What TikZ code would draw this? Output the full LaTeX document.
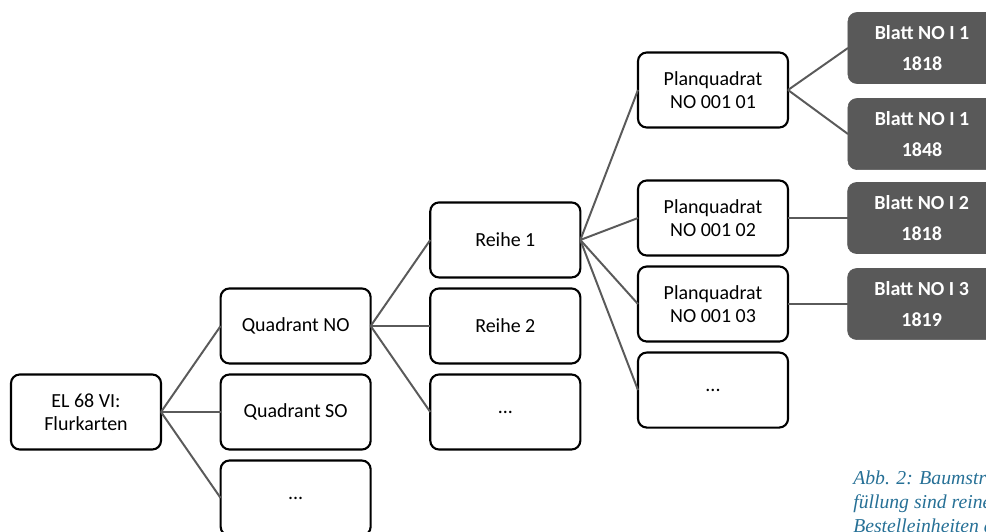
\documentclass[tikz,border=0pt]{standalone}
\usepackage{fontspec}
\setmainfont{Carlito}
\newfontfamily\captionfont{Liberation Serif}
\usetikzlibrary{positioning}
\definecolor{linegray}{RGB}{90,90,90}
\definecolor{leafgray}{RGB}{89,89,89}
\definecolor{captionblue}{RGB}{38,112,150}
\tikzset{
    box/.style={
        rectangle,
        draw=black,
        line width=1.5pt,
        rounded corners=2.2mm,
        fill=white,
        minimum width=3.75cm,
        minimum height=1.875cm,
        outer sep=0pt,
        align=center,
        font=\fontsize{14.2}{16}\selectfont
    },
    leaf/.style={
        rectangle,
        draw=leafgray,
        fill=leafgray,
        rounded corners=2.2mm,
        minimum width=3.7cm,
        minimum height=1.775cm,
        outer sep=0pt,
        align=center,
        text=white,
        font=\fontsize{14.2}{22}\selectfont\bfseries
    },
    link/.style={
        draw=linegray,
        line width=1.4pt
    }
}

\begin{document}
\begin{tikzpicture}[x=0.025cm, y=-0.025cm, node distance=2.75mm and 14.9mm]
    \useasboundingbox (0,0) rectangle (986,532);
    % Bestand
    \node[box]                        (root)      at (86,412) {EL 68 VI:\\Flurkarten};
    % Quadranten
    \node[box, right=of root]         (quadSO)    {Quadrant SO};
    \node[box, above=of quadSO]       (quadNO)    {Quadrant NO};
    \node[box, below=of quadSO]       (quadMore)  {...};
    % Reihen
    \node[box, right=of quadNO]       (reihe2)    {Reihe 2};
    \node[box, above=of reihe2]       (reihe1)    {Reihe 1};
    \node[box, below=of reihe2]       (reiheMore) {...};
    % Planquadrate
    \node[box]                        (plan1)     at (713,90)  {Planquadrat\\NO 001 01};
    \node[box]                        (plan2)     at (713,218) {Planquadrat\\NO 001 02};
    \node[box, below=of plan2]        (plan3)     {Planquadrat\\NO 001 03};
    \node[box, below=of plan3]        (planMore)  {...};
    % Blaetter
    \node[leaf]                       (blatt1)    at (922,48) {Blatt NO I 1\\1818};
    \node[leaf, below=3.75mm of blatt1] (blatt2)  {Blatt NO I 1\\1848};
    \node[leaf, right=of plan2]       (blatt3)    {Blatt NO I 2\\1818};
    \node[leaf, right=of plan3]       (blatt4)    {Blatt NO I 3\\1819};

    \node[anchor=north west, inner sep=0pt, align=left, text=captionblue,
          font=\captionfont\itshape\fontsize{14}{17}\selectfont] (caption) at (853,471)
          {Abb. 2: Baumstru\\füllung sind reine\\Bestelleinheiten d};

    \draw[link] (root.east)   -- (quadNO.west);
    \draw[link] (root.east)   -- (quadSO.west);
    \draw[link] (root.east)   -- (quadMore.west);
    \draw[link] (quadNO.east) -- (reihe1.west);
    \draw[link] (quadNO.east) -- (reihe2.west);
    \draw[link] (quadNO.east) -- (reiheMore.west);
    \draw[link] (reihe1.east) -- (plan1.west);
    \draw[link] (reihe1.east) -- (plan2.west);
    \draw[link] (reihe1.east) -- (plan3.west);
    \draw[link] (reihe1.east) -- (planMore.west);
    \draw[link] (plan1.east)  -- (blatt1.west);
    \draw[link] (plan1.east)  -- (blatt2.west);
    \draw[link] (plan2.east)  -- (blatt3.west);
    \draw[link] (plan3.east)  -- (blatt4.west);
\end{tikzpicture}
\end{document}
